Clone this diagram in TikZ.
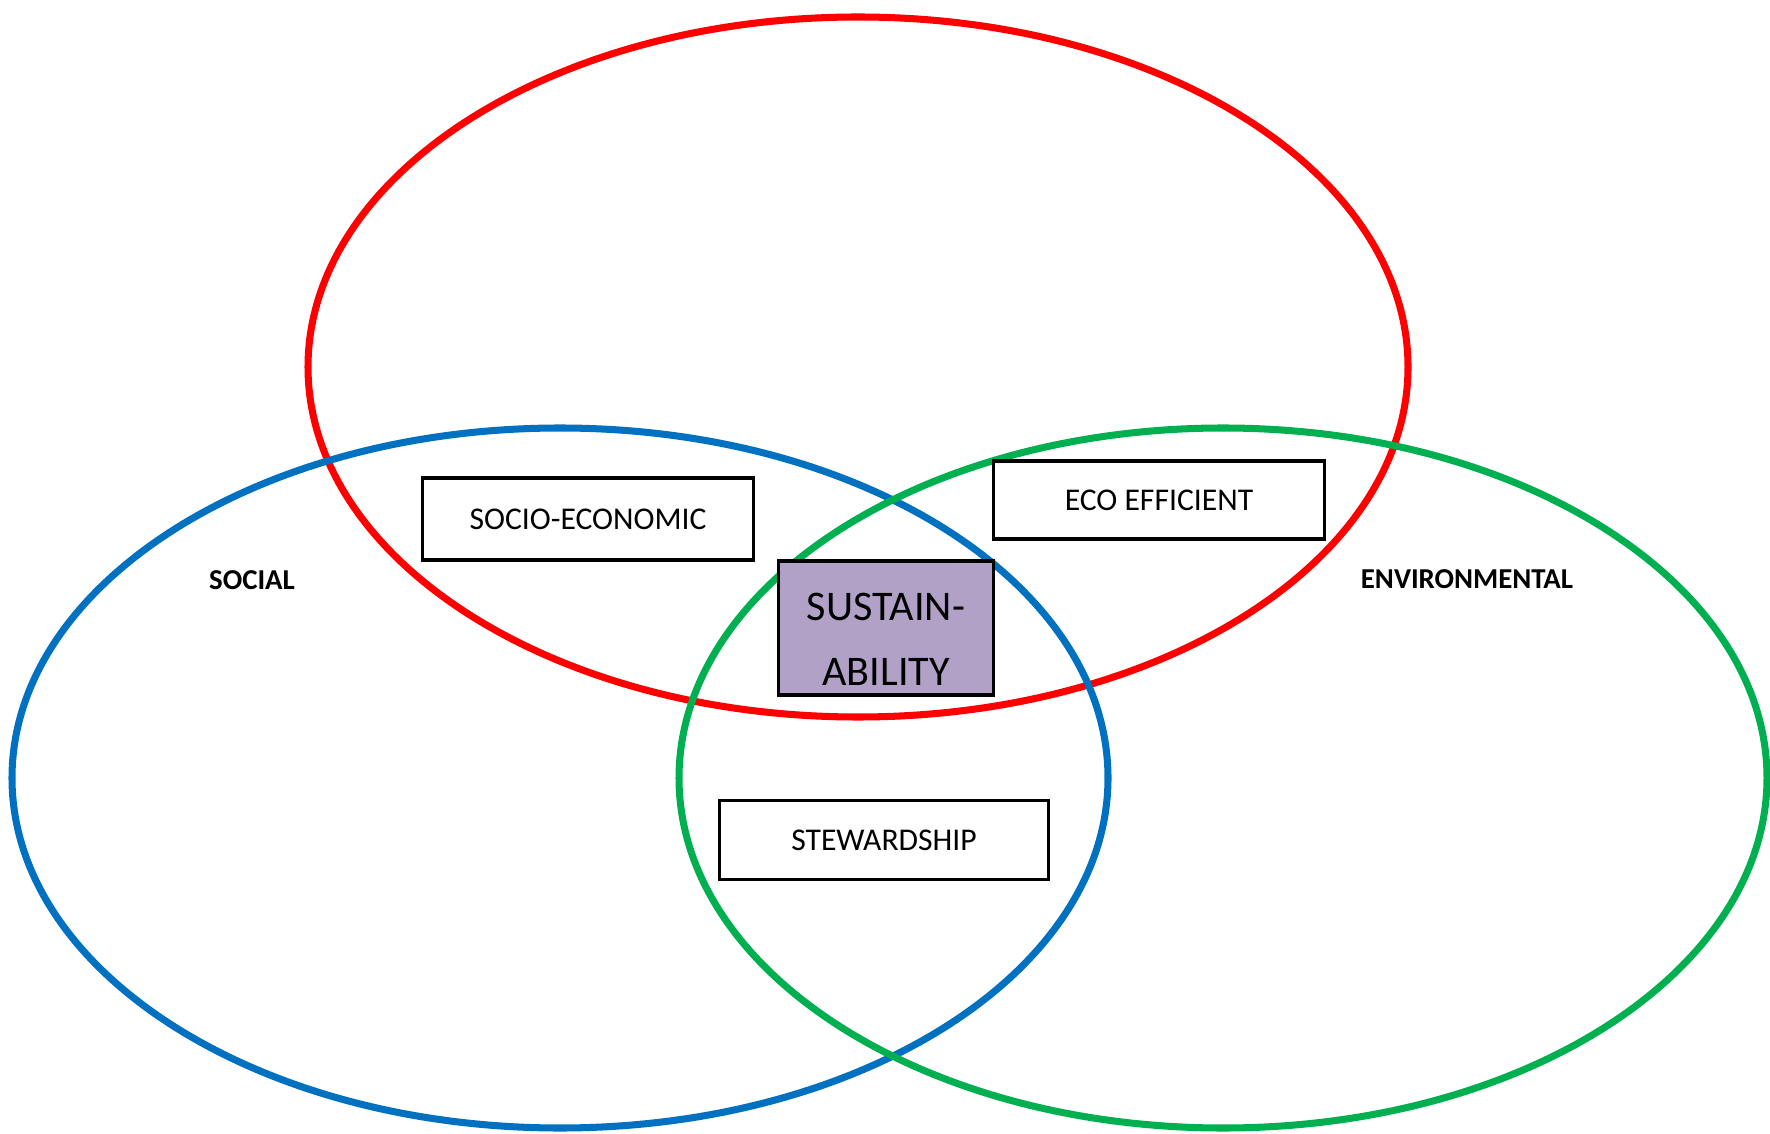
\documentclass[tikz,border=0pt]{standalone}
\usepackage{fontspec}
\setmainfont{Carlito}
\usepackage{tikz}

\definecolor{econred}{HTML}{FF0000}
\definecolor{socblue}{HTML}{0070C0}
\definecolor{envgreen}{HTML}{00B050}
\definecolor{sustpurple}{HTML}{B2A1C7}

\begin{document}
\begin{tikzpicture}[x=0.01cm, y=-0.01cm,
    ring/.style={line width=2pt},
    areabox/.style={draw, fill=white, line width=0.9pt, inner sep=0pt,
        minimum width=3.3cm, minimum height=0.8cm, font=\fontsize{9}{11}\selectfont},
    sector/.style={font=\fontsize{8.2}{10}\selectfont\bfseries}]
    \useasboundingbox (0, 0) rectangle (1770, 1134);

    % 三个圆环：经济、社会、环境
    \draw[ring, econred] (858, 367) ellipse (550 and 350);
    \draw[ring, socblue] (560, 778) ellipse (548 and 350);
    \draw[ring, envgreen] (1223, 778) ellipse (544 and 350);

    % 圆环名称
    \node[sector] (social) at (252, 580) {SOCIAL};
    \node[sector] (environmental) at (1467, 579) {ENVIRONMENTAL};

    % 两两相交区域
    \node[areabox, minimum height=0.82cm] (socioeco) at (588, 519) {SOCIO-ECONOMIC};
    \node[areabox, minimum width=3.31cm, minimum height=0.78cm] (ecoeff) at (1159, 500) {ECO EFFICIENT};
    \node[areabox, minimum width=3.29cm, minimum height=0.79cm] (steward) at (884, 840) {STEWARDSHIP};

    % 中心区域，文字略偏下
    \node[draw, fill=sustpurple, line width=0.9pt, minimum width=2.15cm, minimum height=1.34cm] (sustain) at (886, 628) {};
    \node[align=center, font=\fontsize{12}{18.5}\selectfont, yshift=-0.11cm] (sustaintext) at (sustain.center) {SUSTAIN-\\ABILITY};
\end{tikzpicture}
\end{document}
